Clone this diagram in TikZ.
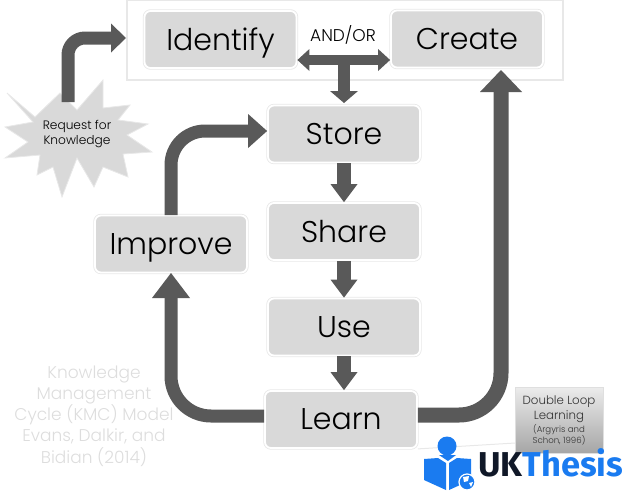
\documentclass[tikz,border=0pt]{standalone}
\usepackage{fontspec}
\setmainfont{Poppins Light}
\newfontfamily\logofont{Fira Sans}
\usetikzlibrary{arrows.meta}
\definecolor{boxfill}{HTML}{D9D9D9}
\definecolor{arrowgray}{HTML}{595959}
\definecolor{rimgray}{HTML}{E8E8E8}
\definecolor{logoblue}{HTML}{1A7BF0}
\definecolor{logodark}{HTML}{101828}
\definecolor{caption}{HTML}{DDDDDD}
\tikzset{
  x=1pt,y=-1pt,
  stepbox/.style={draw=white,line width=1.8pt,fill=boxfill,rounded corners=6pt,inner sep=0pt,
    preaction={draw=rimgray,line width=3.4pt},
    minimum width=152pt,minimum height=57pt,font=\fontsize{30}{34}\selectfont,text=black,text depth=0pt},
  bigarrow/.style={draw=arrowgray,line width=13pt,rounded corners=#1,
    -{Triangle[length=19pt,width=34pt,line width=0pt,fill=arrowgray]}},
  smallarrow/.style={draw=arrowgray,line width=14pt,
    -{Triangle[length=18pt,width=27pt,line width=0pt,fill=arrowgray]}},
}
\begin{document}
\begin{tikzpicture}
\useasboundingbox (0,0) rectangle (634,490);
\node[draw=rimgray,line width=1.2pt,fill=white,minimum width=436pt,minimum height=80pt,inner sep=0pt] (frame) at (345,40) {};
% boxes
\node[stepbox] (identify) at (220.5,39.5) {Identify};
\node[stepbox] (create) at (467,39) {Create};
\node[stepbox] (store) at (344,134) {Store};
\node[stepbox] (share) at (344,231.5) {Share};
\node[stepbox] (use) at (344,327) {Use};
\node[stepbox] (learn) at (341,419.5) {Learn};
\node[stepbox] (improve) at (171,244) {Improve};
% star
\draw[draw=rimgray,line width=.8pt,fill=boxfill,line join=miter]
 (7,93) -- (35,117) -- (60,93) -- (77,110) -- (103,80) -- (103,108) -- (130,105) -- (118,120)
 -- (148,124) -- (127,135) -- (152,152) -- (123,154) -- (128,177) -- (103,167) -- (94,187)
 -- (77,158) -- (62,197) -- (53,167) -- (37,175) -- (40,155) -- (5,158) -- (28,142) -- (5,127) -- (33,122) -- cycle;
\node[inner sep=0pt,align=center,font=\fontsize{12.2}{14.5}\selectfont] (star) at (77,134) {Request for\\Knowledge};
% arrows
\coordinate (startop) at (68,102);
\coordinate (idin) at (126,38);
\draw[bigarrow=17pt,-{Triangle[length=15pt,width=29pt,line width=0pt,fill=arrowgray]}] (startop) -- (68,38) -- (idin);
\draw[bigarrow=34pt] (171,215) -- (171,131) -- (store.west |- 0,131);
\draw[bigarrow=40pt,-{Triangle[length=25pt,width=38pt,line width=0pt,fill=arrowgray]}] (learn.west |- 0,416) -- (171,416) -- (171,273);
\coordinate (crin) at (501,70);
\draw[bigarrow=42pt,line width=15pt,-{Triangle[length=22pt,width=42pt,line width=0pt,fill=arrowgray]}] (learn.east |- 0,415) -- (501,415) -- (crin);
\draw[smallarrow] (store.south) -- (share.north);
\draw[smallarrow] (share.south) -- (use.north);
\draw[smallarrow] (use.south) -- (learn.north -| use.south);
% and/or
\coordinate (mid) at (344,60);
\draw[smallarrow,line width=10pt,{Triangle[length=12pt,width=22pt,line width=0pt,fill=arrowgray]}-{Triangle[length=12pt,width=22pt,line width=0pt,fill=arrowgray]}] (identify.east |- mid) -- (create.west |- mid);
\draw[smallarrow,line width=12pt,-{Triangle[length=12pt,width=28pt,line width=0pt,fill=arrowgray]}] (mid) -- (344,103);
\node[inner sep=0pt,font=\fontsize{17}{19}\selectfont] (andor) at (343,35) {AND/OR};
% caption
\node[inner sep=0pt,align=center,text=caption,font=\fontsize{17}{21.2}\selectfont] (cap) at (94,416)
 {Knowledge\\Management\\Cycle (KMC) Model\\Evans, Dalkir, and\\Bidian (2014)};
% double loop
\draw[draw=rimgray,line width=1pt] (learn.south east) -- (515,443);
\path[top color=gray!15,bottom color=gray!70,draw=gray!25] (515,387) rectangle (603,453);
\node[inner sep=0pt,align=center,font=\fontsize{11.8}{15}\selectfont,text=black!80] (dl) at (559,409) {Double Loop\\Learning};
\node[inner sep=0pt,align=center,font=\fontsize{8.6}{11.5}\selectfont,text=black!80] (dl2) at (559,435) {(Argyris and\\Schon, 1996)};
% logo
\fill[logoblue] (447,446) circle (9.5);
\fill[logoblue] (439,455) -- (456,455) -- (448,461) -- cycle;
\fill[logoblue] (424,459) -- (438,458) -- (446,463) -- (446,490) -- (424,480) -- cycle;
\fill[logoblue] (471,459) -- (457,458) -- (449,463) -- (449,490) -- (471,480) -- cycle;
\fill[logoblue,draw=white,line width=1.2pt] (467,482) circle (8);
\fill[white] (463,477) -- (469,476) -- (468,481) -- (464,482) -- cycle (469,483) -- (473,482) -- (471,487) -- cycle;
\node[anchor=base west,inner sep=0pt,font=\logofont\bfseries\fontsize{34.5}{38}\selectfont] (logo) at (478,476)
 {\textcolor{logodark}{UK}\textcolor{logoblue}{Thesis}};
\end{tikzpicture}
\end{document}
